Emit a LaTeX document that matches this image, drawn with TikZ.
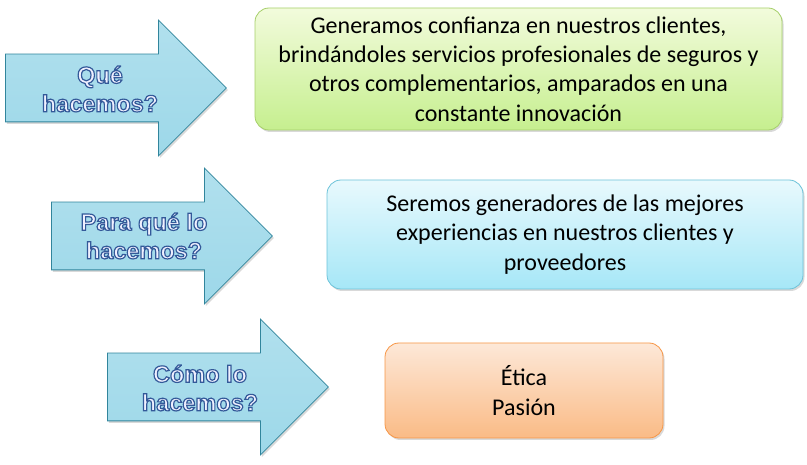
\documentclass[tikz,border=0pt]{standalone}
\usepackage{fontspec}
\setmainfont{Carlito}
\newfontfamily\arrowfont{Liberation Sans Bold}[FakeBold=5]
\usepackage{xcolor}
\usepackage{tikz}
\usetikzlibrary{shapes.arrows, shadows, positioning}

\definecolor{arrowfill}{HTML}{9DD8E9}
\definecolor{arrowline}{HTML}{31859C}
\definecolor{greentop}{HTML}{F2FBDC}
\definecolor{greenbot}{HTML}{C6EF8F}
\definecolor{greenline}{HTML}{A6CF6A}
\definecolor{bluetop}{HTML}{E8F9FD}
\definecolor{bluebot}{HTML}{A6E7F7}
\definecolor{blueline}{HTML}{6CC3D9}
\definecolor{orangetop}{HTML}{FDE8D8}
\definecolor{orangebot}{HTML}{FABB86}
\definecolor{orangeline}{HTML}{F79646}

% white letters with a blue rim
\newcommand{\rimtext}[1]{\special{pdf:literal direct 0.20 0.35 0.60 RG}#1}

\begin{document}
\begin{tikzpicture}[
    x=1pt, y=1pt,
    bigarrow/.style={single arrow, draw=arrowline, line width=0.8pt,
        top color=arrowfill!80!white, bottom color=arrowfill,
        minimum height=221pt, single arrow head extend=34pt,
        inner xsep=0pt, inner ysep=33.5pt, anchor=tail,
        drop shadow={opacity=0.3, shadow xshift=1.5pt, shadow yshift=-2pt}},
    question/.style={align=center, font=\arrowfont\fontsize{23.5}{28.5}\selectfont,
        text=white!94!blue},
    card/.style={rectangle, rounded corners=14pt, line width=0.8pt, align=center,
        font=\fontsize{24}{29.3}\selectfont,
        drop shadow={opacity=0.3, shadow xshift=1.5pt, shadow yshift=-2pt}},
    greencard/.style={card, draw=greenline, top color=greentop, bottom color=greenbot},
    bluecard/.style={card, draw=blueline, top color=bluetop, bottom color=bluebot},
    orangecard/.style={card, draw=orangeline, top color=orangetop, bottom color=orangebot}
]
\useasboundingbox (0,0) rectangle (807,-465);

% arrows on the left
\node[bigarrow] (que) at (5,-88) {};
\node[bigarrow] (paraque) at (51,-236) {};
\node[bigarrow] (como) at (107,-387) {};

\node[question] (queText) at (100,-89) {\rimtext{Qué}\\\rimtext{hacemos?}};
\node[question] (paraqueText) at (144,-236) {\rimtext{Para qué lo}\\\rimtext{hacemos?}};
\node[question] (comoText) at (200,-388) {\rimtext{Cómo lo}\\\rimtext{hacemos?}};

% answers
\node[greencard, minimum width=527pt, minimum height=122pt] (mision) at (518.5,-69)
    {Generamos confianza en nuestros clientes,\\
     brindándoles servicios profesionales de seguros y\\
     otros complementarios, amparados en una\\
     constante innovación};
\node[bluecard, minimum width=476pt, minimum height=109pt] (vision) at (565,-234.5)
    {Seremos generadores de las mejores\\
     experiencias en nuestros clientes y\\
     proveedores};
\node[orangecard, minimum width=278pt, minimum height=95pt] (valores) at (524,-390.5)
    {Ética\\Pasión};

\end{tikzpicture}
\end{document}
